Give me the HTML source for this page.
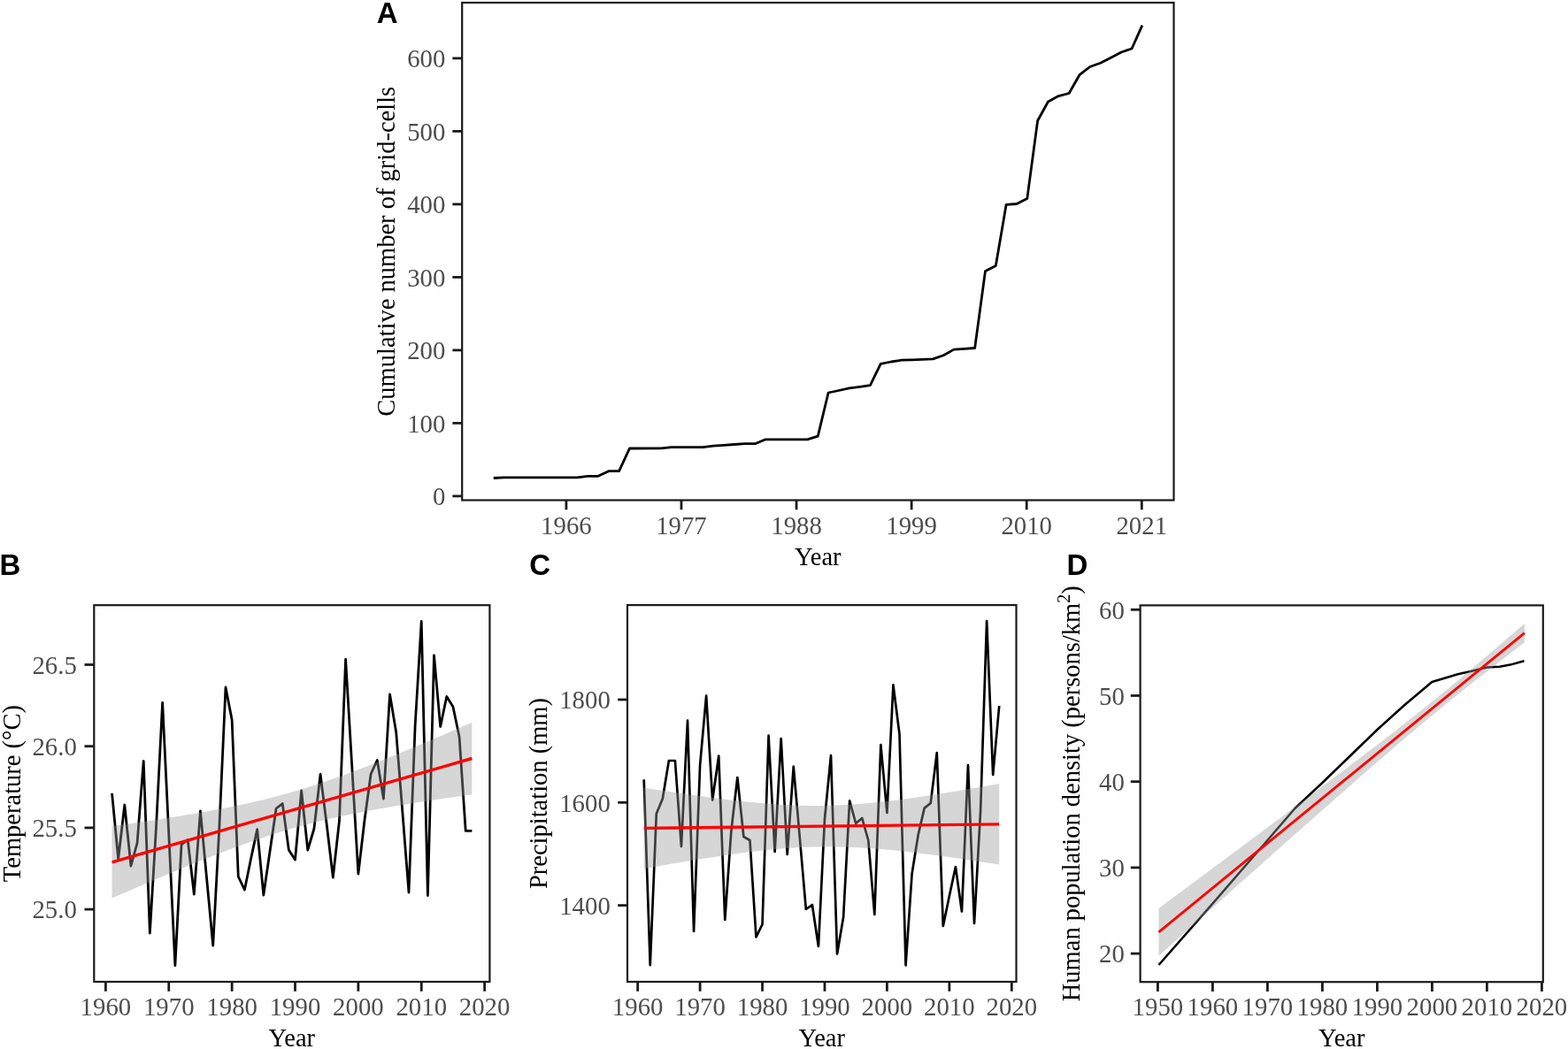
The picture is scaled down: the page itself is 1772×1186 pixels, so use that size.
<!DOCTYPE html>
<html><head><meta charset="utf-8"><title>Figure</title>
<style>html,body{margin:0;padding:0;background:#fff;} svg{display:block;}</style>
</head><body>
<svg width="1772" height="1186" viewBox="0 0 1772 1186">
<style>.tk{font-family:"Liberation Serif", "Times New Roman", serif;font-size:28.8px;fill:#4D4D4D;} .tt{font-family:"Liberation Serif", "Times New Roman", serif;font-size:28.5px;fill:#000;} .pl{font-family:"Liberation Sans", Arial, sans-serif;font-weight:bold;font-size:33px;fill:#000;}</style>
<rect width="1772" height="1186" fill="#fff"/>
<polyline points="557.73,540.50 569.55,539.90 652.33,539.90 664.15,538.30 675.98,538.30 687.80,532.70 699.62,532.70 711.45,507.00 746.92,506.80 758.75,505.60 794.23,505.60 806.05,504.20 817.88,503.40 829.70,502.50 841.52,501.70 853.35,501.70 865.17,496.80 912.48,496.80 924.30,493.20 936.12,444.00 947.95,441.50 959.77,438.90 971.60,437.30 983.42,435.60 995.25,411.30 1007.07,409.00 1018.90,407.20 1030.72,406.80 1042.55,406.30 1054.38,405.90 1066.20,401.80 1078.02,395.10 1089.85,394.30 1101.67,393.50 1113.50,306.40 1125.32,300.50 1137.15,231.30 1148.97,230.50 1160.80,224.60 1172.62,136.50 1184.45,115.00 1196.27,108.60 1208.10,105.50 1219.92,84.70 1231.75,75.50 1243.57,71.20 1255.40,65.20 1267.22,59.00 1279.05,55.00 1290.88,28.60" fill="none" stroke="#000" stroke-width="2.8" stroke-linejoin="round" stroke-linecap="butt" />
<rect x="522.2" y="3.0" width="804.30" height="562.50" fill="none" stroke="#1A1A1A" stroke-width="2.2"/>
<line x1="511.40" y1="560.90" x2="522.20" y2="560.90" stroke="#1A1A1A" stroke-width="2.8"/>
<text x="503.40" y="571.10" text-anchor="end" class="tk">0</text>
<line x1="511.40" y1="478.40" x2="522.20" y2="478.40" stroke="#1A1A1A" stroke-width="2.8"/>
<text x="503.40" y="488.60" text-anchor="end" class="tk">100</text>
<line x1="511.40" y1="395.90" x2="522.20" y2="395.90" stroke="#1A1A1A" stroke-width="2.8"/>
<text x="503.40" y="406.10" text-anchor="end" class="tk">200</text>
<line x1="511.40" y1="313.40" x2="522.20" y2="313.40" stroke="#1A1A1A" stroke-width="2.8"/>
<text x="503.40" y="323.60" text-anchor="end" class="tk">300</text>
<line x1="511.40" y1="230.90" x2="522.20" y2="230.90" stroke="#1A1A1A" stroke-width="2.8"/>
<text x="503.40" y="241.10" text-anchor="end" class="tk">400</text>
<line x1="511.40" y1="148.40" x2="522.20" y2="148.40" stroke="#1A1A1A" stroke-width="2.8"/>
<text x="503.40" y="158.60" text-anchor="end" class="tk">500</text>
<line x1="511.40" y1="65.90" x2="522.20" y2="65.90" stroke="#1A1A1A" stroke-width="2.8"/>
<text x="503.40" y="76.10" text-anchor="end" class="tk">600</text>
<line x1="639.90" y1="565.50" x2="639.90" y2="576.30" stroke="#1A1A1A" stroke-width="2.8"/>
<text x="639.90" y="603.60" text-anchor="middle" class="tk">1966</text>
<line x1="769.97" y1="565.50" x2="769.97" y2="576.30" stroke="#1A1A1A" stroke-width="2.8"/>
<text x="769.97" y="603.60" text-anchor="middle" class="tk">1977</text>
<line x1="900.05" y1="565.50" x2="900.05" y2="576.30" stroke="#1A1A1A" stroke-width="2.8"/>
<text x="900.05" y="603.60" text-anchor="middle" class="tk">1988</text>
<line x1="1030.12" y1="565.50" x2="1030.12" y2="576.30" stroke="#1A1A1A" stroke-width="2.8"/>
<text x="1030.12" y="603.60" text-anchor="middle" class="tk">1999</text>
<line x1="1160.20" y1="565.50" x2="1160.20" y2="576.30" stroke="#1A1A1A" stroke-width="2.8"/>
<text x="1160.20" y="603.60" text-anchor="middle" class="tk">2010</text>
<line x1="1290.28" y1="565.50" x2="1290.28" y2="576.30" stroke="#1A1A1A" stroke-width="2.8"/>
<text x="1290.28" y="603.60" text-anchor="middle" class="tk">2021</text>
<text x="924.35" y="638.7" text-anchor="middle" class="tt">Year</text>
<text transform="translate(446.1,284.25) rotate(-90)" text-anchor="middle" class="tt">Cumulative number of grid-cells</text>
<text x="425.7" y="25.6" class="pl">A</text>
<polyline points="126.54,896.80 133.67,971.00 140.81,910.00 147.95,979.00 155.09,953.00 162.22,860.40 169.36,1055.00 176.50,935.00 183.63,794.30 190.77,943.00 197.91,1091.70 205.04,954.80 212.18,949.40 219.32,1011.00 226.45,916.80 233.59,993.00 240.73,1069.00 247.87,935.00 255.00,777.00 262.14,814.00 269.28,991.00 276.41,1006.00 283.55,971.00 290.69,937.60 297.82,1012.00 304.96,963.00 312.10,914.00 319.24,908.60 326.37,961.00 333.51,972.00 340.65,894.00 347.78,961.00 354.92,937.00 362.06,875.50 369.19,932.00 376.33,992.00 383.47,928.00 390.61,745.30 397.74,866.00 404.88,988.00 412.02,927.00 419.15,875.00 426.29,859.50 433.43,903.00 440.56,785.00 447.70,828.00 454.84,918.00 461.98,1009.00 469.11,821.00 476.25,702.40 483.39,1012.50 490.52,741.00 497.66,821.50 504.80,787.50 511.93,799.00 519.07,833.00 526.21,939.40 533.35,939.40" fill="none" stroke="#000" stroke-width="2.8" stroke-linejoin="round" stroke-linecap="butt" />
<polygon points="126.54,934.05 131.62,933.34 136.71,932.62 141.79,931.90 146.88,931.17 151.96,930.44 157.05,929.70 162.13,928.95 167.22,928.20 172.30,927.43 177.39,926.66 182.47,925.89 187.56,925.10 192.64,924.30 197.73,923.49 202.81,922.67 207.90,921.84 212.98,920.99 218.07,920.13 223.15,919.26 228.24,918.37 233.32,917.47 238.41,916.54 243.49,915.60 248.58,914.64 253.66,913.66 258.75,912.65 263.84,911.62 268.92,910.57 274.01,909.49 279.09,908.38 284.18,907.24 289.26,906.08 294.35,904.88 299.43,903.65 304.52,902.38 309.60,901.08 314.69,899.74 319.77,898.37 324.86,896.96 329.94,895.51 335.03,894.03 340.11,892.50 345.20,890.94 350.28,889.35 355.37,887.72 360.45,886.05 365.54,884.35 370.62,882.62 375.71,880.85 380.79,879.06 385.88,877.23 390.96,875.38 396.05,873.50 401.13,871.60 406.22,869.67 411.30,867.72 416.39,865.75 421.47,863.76 426.56,861.75 431.64,859.72 436.73,857.68 441.81,855.62 446.90,853.54 451.98,851.46 457.07,849.36 462.15,847.24 467.24,845.12 472.32,842.99 477.41,840.84 482.49,838.69 487.58,836.53 492.67,834.36 497.75,832.18 502.84,829.99 507.92,827.80 513.01,825.60 518.09,823.40 523.18,821.19 528.26,818.97 533.35,816.75 533.35,898.25 528.26,898.96 523.18,899.68 518.09,900.40 513.01,901.13 507.92,901.86 502.84,902.60 497.75,903.35 492.67,904.10 487.58,904.87 482.49,905.64 477.41,906.41 472.32,907.20 467.24,908.00 462.15,908.81 457.07,909.63 451.98,910.46 446.90,911.31 441.81,912.17 436.73,913.04 431.64,913.93 426.56,914.83 421.47,915.76 416.39,916.70 411.30,917.66 406.22,918.64 401.13,919.65 396.05,920.68 390.96,921.73 385.88,922.81 380.79,923.92 375.71,925.06 370.62,926.22 365.54,927.42 360.45,928.65 355.37,929.92 350.28,931.22 345.20,932.56 340.11,933.93 335.03,935.34 329.94,936.79 324.86,938.27 319.77,939.80 314.69,941.36 309.60,942.95 304.52,944.58 299.43,946.25 294.35,947.95 289.26,949.68 284.18,951.45 279.09,953.24 274.01,955.07 268.92,956.92 263.84,958.80 258.75,960.70 253.66,962.63 248.58,964.58 243.49,966.55 238.41,968.54 233.32,970.55 228.24,972.58 223.15,974.62 218.07,976.68 212.98,978.76 207.90,980.84 202.81,982.94 197.73,985.06 192.64,987.18 187.56,989.31 182.47,991.46 177.39,993.61 172.30,995.77 167.22,997.94 162.13,1000.12 157.05,1002.31 151.96,1004.50 146.88,1006.70 141.79,1008.90 136.71,1011.11 131.62,1013.33 126.54,1015.55" fill="#999999" fill-opacity="0.4" stroke="none"/>
<polyline points="126.54,974.80 533.35,857.50" fill="none" stroke="#FF0000" stroke-width="3.4" stroke-linejoin="round" stroke-linecap="butt" />
<rect x="106.3" y="684.2" width="447.10" height="425.80" fill="none" stroke="#1A1A1A" stroke-width="2.2"/>
<line x1="95.50" y1="1028.10" x2="106.30" y2="1028.10" stroke="#1A1A1A" stroke-width="2.8"/>
<text x="86.80" y="1038.30" text-anchor="end" class="tk">25.0</text>
<line x1="95.50" y1="935.90" x2="106.30" y2="935.90" stroke="#1A1A1A" stroke-width="2.8"/>
<text x="86.80" y="946.10" text-anchor="end" class="tk">25.5</text>
<line x1="95.50" y1="843.70" x2="106.30" y2="843.70" stroke="#1A1A1A" stroke-width="2.8"/>
<text x="86.80" y="853.90" text-anchor="end" class="tk">26.0</text>
<line x1="95.50" y1="751.50" x2="106.30" y2="751.50" stroke="#1A1A1A" stroke-width="2.8"/>
<text x="86.80" y="761.70" text-anchor="end" class="tk">26.5</text>
<line x1="119.40" y1="1110.00" x2="119.40" y2="1120.80" stroke="#1A1A1A" stroke-width="2.8"/>
<text x="119.40" y="1148.40" text-anchor="middle" class="tk">1960</text>
<line x1="190.77" y1="1110.00" x2="190.77" y2="1120.80" stroke="#1A1A1A" stroke-width="2.8"/>
<text x="190.77" y="1148.40" text-anchor="middle" class="tk">1970</text>
<line x1="262.14" y1="1110.00" x2="262.14" y2="1120.80" stroke="#1A1A1A" stroke-width="2.8"/>
<text x="262.14" y="1148.40" text-anchor="middle" class="tk">1980</text>
<line x1="333.51" y1="1110.00" x2="333.51" y2="1120.80" stroke="#1A1A1A" stroke-width="2.8"/>
<text x="333.51" y="1148.40" text-anchor="middle" class="tk">1990</text>
<line x1="404.88" y1="1110.00" x2="404.88" y2="1120.80" stroke="#1A1A1A" stroke-width="2.8"/>
<text x="404.88" y="1148.40" text-anchor="middle" class="tk">2000</text>
<line x1="476.25" y1="1110.00" x2="476.25" y2="1120.80" stroke="#1A1A1A" stroke-width="2.8"/>
<text x="476.25" y="1148.40" text-anchor="middle" class="tk">2010</text>
<line x1="547.62" y1="1110.00" x2="547.62" y2="1120.80" stroke="#1A1A1A" stroke-width="2.8"/>
<text x="547.62" y="1148.40" text-anchor="middle" class="tk">2020</text>
<text x="329.85" y="1183" text-anchor="middle" class="tt">Year</text>
<text transform="translate(22.5,897.10) rotate(-90)" text-anchor="middle" class="tt">Temperature (°C)</text>
<text x="-0.45" y="649.6" class="pl">B</text>
<polyline points="727.70,881.20 734.74,1091.20 741.79,920.00 748.83,903.00 755.88,860.00 762.92,860.00 769.96,957.00 777.01,814.70 784.05,1053.00 791.10,865.00 798.14,786.60 805.18,904.50 812.23,854.60 819.27,1040.00 826.32,940.00 833.36,879.00 840.40,946.00 847.45,950.00 854.49,1059.50 861.54,1045.00 868.58,831.70 875.62,963.00 882.67,835.00 889.71,966.00 896.76,866.70 903.80,947.00 910.84,1028.00 917.89,1023.00 924.93,1070.00 931.98,926.00 939.02,854.00 946.06,1078.50 953.11,1037.00 960.15,905.40 967.20,931.00 974.24,925.00 981.28,950.00 988.33,1034.00 995.37,842.00 1002.42,919.00 1009.46,774.30 1016.50,830.00 1023.55,1091.30 1030.59,988.00 1037.64,944.00 1044.68,913.60 1051.72,908.00 1058.77,851.00 1065.81,1047.00 1072.86,1013.00 1079.90,980.00 1086.94,1030.50 1093.99,865.00 1101.03,1044.00 1108.08,917.00 1115.12,702.00 1122.16,876.00 1129.21,798.00" fill="none" stroke="#000" stroke-width="2.7" stroke-linejoin="round" stroke-linecap="butt" />
<polygon points="727.70,890.60 732.72,891.39 737.74,892.18 742.76,892.96 747.78,893.73 752.79,894.49 757.81,895.25 762.83,896.00 767.85,896.75 772.87,897.48 777.89,898.20 782.91,898.92 787.93,899.62 792.95,900.32 797.96,901.00 802.98,901.67 808.00,902.32 813.02,902.96 818.04,903.59 823.06,904.20 828.08,904.79 833.10,905.36 838.11,905.91 843.13,906.45 848.15,906.95 853.17,907.44 858.19,907.90 863.21,908.34 868.23,908.74 873.25,909.12 878.27,909.46 883.28,909.78 888.30,910.05 893.32,910.30 898.34,910.50 903.36,910.67 908.38,910.80 913.40,910.89 918.42,910.93 923.44,910.94 928.45,910.90 933.47,910.82 938.49,910.70 943.51,910.54 948.53,910.34 953.55,910.10 958.57,909.81 963.59,909.49 968.60,909.13 973.62,908.74 978.64,908.31 983.66,907.85 988.68,907.36 993.70,906.84 998.72,906.29 1003.74,905.72 1008.76,905.11 1013.77,904.49 1018.79,903.84 1023.81,903.17 1028.83,902.49 1033.85,901.78 1038.87,901.06 1043.89,900.32 1048.91,899.56 1053.93,898.79 1058.94,898.01 1063.96,897.21 1068.98,896.40 1074.00,895.58 1079.02,894.75 1084.04,893.91 1089.06,893.07 1094.08,892.21 1099.09,891.34 1104.11,890.47 1109.13,889.59 1114.15,888.70 1119.17,887.81 1124.19,886.91 1129.21,886.00 1129.21,977.60 1124.19,976.81 1119.17,976.02 1114.15,975.24 1109.13,974.47 1104.11,973.71 1099.09,972.95 1094.08,972.20 1089.06,971.45 1084.04,970.72 1079.02,970.00 1074.00,969.28 1068.98,968.58 1063.96,967.88 1058.94,967.20 1053.93,966.53 1048.91,965.88 1043.89,965.24 1038.87,964.61 1033.85,964.00 1028.83,963.41 1023.81,962.84 1018.79,962.29 1013.77,961.75 1008.76,961.25 1003.74,960.76 998.72,960.30 993.70,959.86 988.68,959.46 983.66,959.08 978.64,958.74 973.62,958.42 968.60,958.15 963.59,957.90 958.57,957.70 953.55,957.53 948.53,957.40 943.51,957.31 938.49,957.27 933.47,957.26 928.45,957.30 923.44,957.38 918.42,957.50 913.40,957.66 908.38,957.86 903.36,958.10 898.34,958.39 893.32,958.71 888.30,959.07 883.28,959.46 878.27,959.89 873.25,960.35 868.23,960.84 863.21,961.36 858.19,961.91 853.17,962.48 848.15,963.09 843.13,963.71 838.11,964.36 833.10,965.03 828.08,965.71 823.06,966.42 818.04,967.14 813.02,967.88 808.00,968.64 802.98,969.41 797.96,970.19 792.95,970.99 787.93,971.80 782.91,972.62 777.89,973.45 772.87,974.29 767.85,975.13 762.83,975.99 757.81,976.86 752.79,977.73 747.78,978.61 742.76,979.50 737.74,980.39 732.72,981.29 727.70,982.20" fill="#999999" fill-opacity="0.4" stroke="none"/>
<polyline points="727.70,936.40 1129.21,931.80" fill="none" stroke="#FF0000" stroke-width="3.3" stroke-linejoin="round" stroke-linecap="butt" />
<rect x="709.0" y="684.1" width="439.50" height="425.90" fill="none" stroke="#1A1A1A" stroke-width="2.2"/>
<line x1="698.20" y1="1023.60" x2="709.00" y2="1023.60" stroke="#1A1A1A" stroke-width="2.8"/>
<text x="689.80" y="1033.80" text-anchor="end" class="tk">1400</text>
<line x1="698.20" y1="907.30" x2="709.00" y2="907.30" stroke="#1A1A1A" stroke-width="2.8"/>
<text x="689.80" y="917.50" text-anchor="end" class="tk">1600</text>
<line x1="698.20" y1="791.00" x2="709.00" y2="791.00" stroke="#1A1A1A" stroke-width="2.8"/>
<text x="689.80" y="801.20" text-anchor="end" class="tk">1800</text>
<line x1="720.66" y1="1110.00" x2="720.66" y2="1120.80" stroke="#1A1A1A" stroke-width="2.8"/>
<text x="720.66" y="1148.40" text-anchor="middle" class="tk">1960</text>
<line x1="791.10" y1="1110.00" x2="791.10" y2="1120.80" stroke="#1A1A1A" stroke-width="2.8"/>
<text x="791.10" y="1148.40" text-anchor="middle" class="tk">1970</text>
<line x1="861.54" y1="1110.00" x2="861.54" y2="1120.80" stroke="#1A1A1A" stroke-width="2.8"/>
<text x="861.54" y="1148.40" text-anchor="middle" class="tk">1980</text>
<line x1="931.98" y1="1110.00" x2="931.98" y2="1120.80" stroke="#1A1A1A" stroke-width="2.8"/>
<text x="931.98" y="1148.40" text-anchor="middle" class="tk">1990</text>
<line x1="1002.42" y1="1110.00" x2="1002.42" y2="1120.80" stroke="#1A1A1A" stroke-width="2.8"/>
<text x="1002.42" y="1148.40" text-anchor="middle" class="tk">2000</text>
<line x1="1072.86" y1="1110.00" x2="1072.86" y2="1120.80" stroke="#1A1A1A" stroke-width="2.8"/>
<text x="1072.86" y="1148.40" text-anchor="middle" class="tk">2010</text>
<line x1="1143.30" y1="1110.00" x2="1143.30" y2="1120.80" stroke="#1A1A1A" stroke-width="2.8"/>
<text x="1143.30" y="1148.40" text-anchor="middle" class="tk">2020</text>
<text x="928.75" y="1183" text-anchor="middle" class="tt">Year</text>
<text transform="translate(618.1,897.05) rotate(-90)" text-anchor="middle" class="tt">Precipitation (mm)</text>
<text x="598.3" y="649.6" class="pl">C</text>
<polyline points="1309.50,1091.00 1370.40,1021.60 1432.40,950.00 1463.40,914.00 1494.40,885.00 1525.40,855.00 1556.40,825.00 1587.40,797.00 1618.30,771.00 1631.60,767.00 1647.40,762.30 1663.20,758.70 1680.40,754.50 1694.80,753.80 1706.70,751.60 1722.50,747.30" fill="none" stroke="#000" stroke-width="2.5" stroke-linejoin="round" stroke-linecap="butt" />
<polygon points="1309.50,1026.89 1314.67,1023.05 1319.84,1019.22 1325.00,1015.39 1330.17,1011.56 1335.34,1007.73 1340.51,1003.89 1345.67,1000.06 1350.84,996.22 1356.01,992.39 1361.17,988.55 1366.34,984.71 1371.51,980.87 1376.68,977.03 1381.85,973.19 1387.01,969.35 1392.18,965.51 1397.35,961.67 1402.52,957.82 1407.68,953.97 1412.85,950.13 1418.02,946.28 1423.18,942.43 1428.35,938.57 1433.52,934.72 1438.69,930.86 1443.86,927.01 1449.02,923.14 1454.19,919.28 1459.36,915.42 1464.53,911.55 1469.69,907.68 1474.86,903.81 1480.03,899.93 1485.19,896.05 1490.36,892.17 1495.53,888.28 1500.70,884.38 1505.87,880.49 1511.03,876.59 1516.20,872.68 1521.37,868.76 1526.54,864.84 1531.70,860.92 1536.87,856.98 1542.04,853.04 1547.21,849.09 1552.37,845.13 1557.54,841.16 1562.71,837.17 1567.88,833.18 1573.04,829.17 1578.21,825.15 1583.38,821.11 1588.55,817.06 1593.71,812.99 1598.88,808.90 1604.05,804.79 1609.22,800.67 1614.38,796.52 1619.55,792.35 1624.72,788.16 1629.89,783.95 1635.05,779.71 1640.22,775.46 1645.39,771.18 1650.56,766.88 1655.72,762.56 1660.89,758.22 1666.06,753.86 1671.23,749.48 1676.39,745.08 1681.56,740.67 1686.73,736.24 1691.89,731.80 1697.06,727.34 1702.23,722.87 1707.40,718.40 1712.57,713.90 1717.73,709.40 1722.90,704.90 1722.90,726.30 1717.73,730.25 1712.57,734.21 1707.40,738.17 1702.23,742.15 1697.06,746.13 1691.89,750.13 1686.73,754.14 1681.56,758.17 1676.39,762.21 1671.23,766.27 1666.06,770.35 1660.89,774.44 1655.72,778.56 1650.56,782.69 1645.39,786.85 1640.22,791.02 1635.05,795.22 1629.89,799.44 1624.72,803.68 1619.55,807.95 1614.38,812.23 1609.22,816.54 1604.05,820.87 1598.88,825.22 1593.71,829.59 1588.55,833.97 1583.38,838.37 1578.21,842.79 1573.04,847.22 1567.88,851.67 1562.71,856.13 1557.54,860.60 1552.37,865.09 1547.21,869.58 1542.04,874.08 1536.87,878.60 1531.70,883.12 1526.54,887.65 1521.37,892.18 1516.20,896.72 1511.03,901.27 1505.87,905.82 1500.70,910.38 1495.53,914.94 1490.36,919.51 1485.19,924.08 1480.03,928.66 1474.86,933.23 1469.69,937.82 1464.53,942.40 1459.36,946.99 1454.19,951.58 1449.02,956.17 1443.86,960.76 1438.69,965.36 1433.52,969.96 1428.35,974.56 1423.18,979.16 1418.02,983.77 1412.85,988.37 1407.68,992.98 1402.52,997.59 1397.35,1002.20 1392.18,1006.81 1387.01,1011.42 1381.85,1016.04 1376.68,1020.65 1371.51,1025.27 1366.34,1029.88 1361.17,1034.50 1356.01,1039.12 1350.84,1043.74 1345.67,1048.36 1340.51,1052.98 1335.34,1057.60 1330.17,1062.22 1325.00,1066.84 1319.84,1071.47 1314.67,1076.09 1309.50,1080.71" fill="#999999" fill-opacity="0.4" stroke="none"/>
<polyline points="1309.50,1053.80 1722.90,715.60" fill="none" stroke="#FF0000" stroke-width="2.9" stroke-linejoin="round" stroke-linecap="butt" />
<rect x="1288.6" y="684.4" width="455.20" height="425.80" fill="none" stroke="#1A1A1A" stroke-width="2.2"/>
<line x1="1277.80" y1="1078.10" x2="1288.60" y2="1078.10" stroke="#1A1A1A" stroke-width="2.8"/>
<text x="1270.80" y="1088.30" text-anchor="end" class="tk">20</text>
<line x1="1277.80" y1="980.90" x2="1288.60" y2="980.90" stroke="#1A1A1A" stroke-width="2.8"/>
<text x="1270.80" y="991.10" text-anchor="end" class="tk">30</text>
<line x1="1277.80" y1="883.70" x2="1288.60" y2="883.70" stroke="#1A1A1A" stroke-width="2.8"/>
<text x="1270.80" y="893.90" text-anchor="end" class="tk">40</text>
<line x1="1277.80" y1="786.50" x2="1288.60" y2="786.50" stroke="#1A1A1A" stroke-width="2.8"/>
<text x="1270.80" y="796.70" text-anchor="end" class="tk">50</text>
<line x1="1277.80" y1="689.30" x2="1288.60" y2="689.30" stroke="#1A1A1A" stroke-width="2.8"/>
<text x="1270.80" y="699.50" text-anchor="end" class="tk">60</text>
<line x1="1308.40" y1="1110.20" x2="1308.40" y2="1121.00" stroke="#1A1A1A" stroke-width="2.8"/>
<text x="1308.40" y="1148.10" text-anchor="middle" class="tk">1950</text>
<line x1="1370.40" y1="1110.20" x2="1370.40" y2="1121.00" stroke="#1A1A1A" stroke-width="2.8"/>
<text x="1370.40" y="1148.10" text-anchor="middle" class="tk">1960</text>
<line x1="1432.40" y1="1110.20" x2="1432.40" y2="1121.00" stroke="#1A1A1A" stroke-width="2.8"/>
<text x="1432.40" y="1148.10" text-anchor="middle" class="tk">1970</text>
<line x1="1494.40" y1="1110.20" x2="1494.40" y2="1121.00" stroke="#1A1A1A" stroke-width="2.8"/>
<text x="1494.40" y="1148.10" text-anchor="middle" class="tk">1980</text>
<line x1="1556.40" y1="1110.20" x2="1556.40" y2="1121.00" stroke="#1A1A1A" stroke-width="2.8"/>
<text x="1556.40" y="1148.10" text-anchor="middle" class="tk">1990</text>
<line x1="1618.40" y1="1110.20" x2="1618.40" y2="1121.00" stroke="#1A1A1A" stroke-width="2.8"/>
<text x="1618.40" y="1148.10" text-anchor="middle" class="tk">2000</text>
<line x1="1680.40" y1="1110.20" x2="1680.40" y2="1121.00" stroke="#1A1A1A" stroke-width="2.8"/>
<text x="1680.40" y="1148.10" text-anchor="middle" class="tk">2010</text>
<line x1="1742.40" y1="1110.20" x2="1742.40" y2="1121.00" stroke="#1A1A1A" stroke-width="2.8"/>
<text x="1742.40" y="1148.10" text-anchor="middle" class="tk">2020</text>
<text x="1516.20" y="1183" text-anchor="middle" class="tt">Year</text>
<text transform="translate(1220.4,897.30) rotate(-90)" text-anchor="middle" class="tt">Human population density (persons/km<tspan dy="-11" font-size="20">2</tspan><tspan dy="11">)</tspan></text>
<text x="1205.5" y="649.6" class="pl">D</text>
</svg>
</body></html>
